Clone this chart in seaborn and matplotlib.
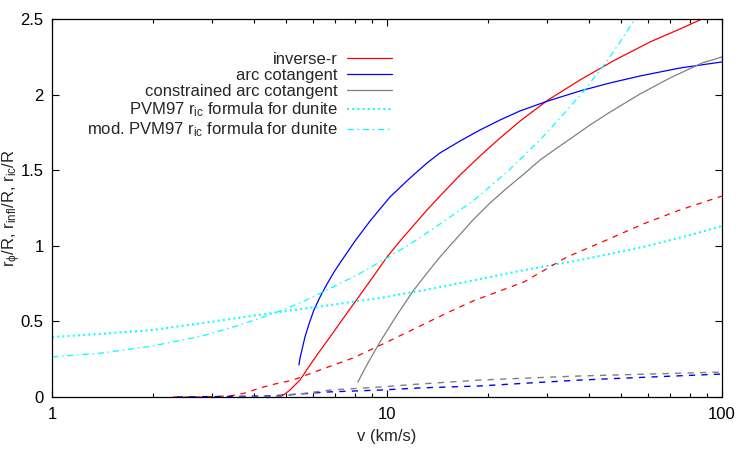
import matplotlib
matplotlib.use("Agg")
from matplotlib import pyplot as plt
from matplotlib import ticker
import seaborn as sns
import numpy as np

# curves (v in km/s, radius / R)
v_inv = [4.76, 4.96, 5.13, 5.31, 5.50, 5.81, 6.18, 6.76, 7.49, 8.31, 9.08, 10.0, 10.94, 11.96,
         13.17, 14.39, 16.52, 18.95, 21.75, 24.95, 30.24, 37.68, 47.93, 60.97, 74.93, 87.16, 100]
r_inv = [0.0, 0.020, 0.046, 0.079, 0.112, 0.192, 0.278, 0.397, 0.536, 0.675, 0.794, 0.926, 1.032,
         1.131, 1.237, 1.329, 1.468, 1.594, 1.713, 1.825, 1.964, 2.097, 2.229, 2.348, 2.434, 2.5, 2.56]

v_acot = [5.46, 5.50, 5.58, 5.69, 5.85, 6.05, 6.31, 6.62, 6.95, 7.34, 8.03, 8.90, 10.21, 11.71,
          13.17, 14.39, 16.52, 18.95, 21.75, 24.95, 30.24, 37.68, 46.3, 56.9, 74.93, 100]
r_acot = [0.212, 0.258, 0.317, 0.397, 0.483, 0.575, 0.661, 0.747, 0.827, 0.906, 1.032, 1.164, 1.323,
          1.448, 1.548, 1.614, 1.693, 1.766, 1.832, 1.892, 1.958, 2.024, 2.077, 2.123, 2.176, 2.216]

v_cacot = [8.19, 8.42, 8.84, 9.53, 10.56, 11.96, 13.17, 14.39, 15.96, 18.06, 20.30, 22.81, 25.82,
           28.62, 32.17, 35.92, 40.36, 45.38, 51.33, 56.9, 69.96, 87.16, 100]
r_cacot = [0.099, 0.152, 0.238, 0.364, 0.522, 0.701, 0.820, 0.926, 1.038, 1.171, 1.283, 1.382, 1.481,
           1.567, 1.647, 1.720, 1.799, 1.872, 1.944, 2.004, 2.110, 2.209, 2.249]

v_pvm = [1.0, 1.39, 1.99, 2.96, 4.54, 6.76, 9.53, 13.44, 18.95, 26.7, 37.68, 58.1, 80.3, 100]
r_pvm = [0.397, 0.417, 0.443, 0.496, 0.556, 0.608, 0.655, 0.714, 0.780, 0.847, 0.906, 0.992, 1.071, 1.131]

v_mod = [1.0, 1.41, 1.99, 2.80, 3.64, 4.54, 5.50, 6.62, 8.14, 10.0, 12.12, 14.39, 18.06, 22.81,
         28.62, 32.84, 38.47, 45.38, 49.6, 55.0, 60.97]
r_mod = [0.265, 0.291, 0.337, 0.403, 0.476, 0.549, 0.622, 0.708, 0.807, 0.919, 1.032, 1.144, 1.296,
         1.488, 1.700, 1.845, 2.017, 2.222, 2.348, 2.5, 2.652]

# dashed curves (no legend entry)
v_inv_d = [2.3, 2.77, 3.40, 3.77, 4.18, 4.63, 5.24, 6.31, 7.92, 9.86, 11.71, 15.10, 18.06, 25.64,
           34.46, 43.23, 58.1, 74.93, 100]
r_inv_d = [0.0, 0.0, 0.007, 0.026, 0.060, 0.086, 0.112, 0.179, 0.258, 0.357, 0.437, 0.556, 0.635,
           0.761, 0.926, 1.019, 1.144, 1.237, 1.329]

v_acot_d = [2.36, 4.47, 5.50, 6.62, 9.53, 12.54, 18.95, 26.7, 37.68, 60.97, 100]
r_acot_d = [0.0, 0.007, 0.020, 0.033, 0.046, 0.060, 0.073, 0.093, 0.112, 0.132, 0.152]

v_cacot_d = [3.6, 4.47, 5.50, 6.76, 9.53, 12.54, 18.95, 26.7, 37.68, 60.97, 100]
r_cacot_d = [0.0, 0.0, 0.020, 0.046, 0.066, 0.086, 0.112, 0.126, 0.139, 0.152, 0.165]

labels = ["inverse-r", "arc cotangent", "constrained arc cotangent",
          r"PVM97 r$_\mathrm{ic}$ formula for dunite",
          r"mod. PVM97 r$_\mathrm{ic}$ formula for dunite"]
xticks = [1, 10, 100]
xtick_labels = ["1", "10", "100"]
yticks = [0, 0.5, 1, 1.5, 2, 2.5]

sns.set_style("ticks")
plt.rcParams['font.family'] = ['Liberation Sans', 'DejaVu Sans']
plt.rcParams['mathtext.fontset'] = 'custom'
plt.rcParams['mathtext.rm'] = 'Liberation Sans'
plt.rcParams['mathtext.it'] = 'Liberation Sans'
plt.rcParams['font.size'] = 12

fig = plt.figure(figsize=(7.5, 4.5), dpi=100)
ax = fig.add_axes([52 / 750, 1 - 397 / 450, 670 / 750, 378 / 450])
ax.set_xscale("log")

lw = 0.9
sns.lineplot(x=v_inv, y=r_inv, ax=ax, color="#ff0000", lw=lw, label=labels[0])
sns.lineplot(x=v_acot, y=r_acot, ax=ax, color="#0000ff", lw=lw, label=labels[1])
sns.lineplot(x=v_cacot, y=r_cacot, ax=ax, color="#808080", lw=lw, label=labels[2])
sns.lineplot(x=v_pvm, y=r_pvm, ax=ax, color="#00ffff", lw=1.5, label=labels[3])
sns.lineplot(x=v_mod, y=r_mod, ax=ax, color="#00ffff", lw=lw, label=labels[4])
sns.lineplot(x=v_inv_d, y=r_inv_d, ax=ax, color="#ff0000", lw=lw)
sns.lineplot(x=v_acot_d, y=r_acot_d, ax=ax, color="#0000ff", lw=1.0)
sns.lineplot(x=v_cacot_d, y=r_cacot_d, ax=ax, color="#808080", lw=1.0)

lines = ax.get_lines()
lines[3].set_dashes((0.9, 1.6))
lines[4].set_dashes((5, 3, 1.2, 3))
lines[5].set_dashes((4.5, 4.5))
lines[6].set_dashes((4.5, 4.5))
lines[7].set_dashes((4.5, 4.5))

ax.set_xlim(1, 100)
ax.set_ylim(0, 2.5)
ax.set_xticks(xticks)
ax.set_xticklabels(xtick_labels)
ax.xaxis.set_minor_locator(ticker.LogLocator(base=10, subs=np.arange(2, 10)))
ax.xaxis.set_minor_formatter(ticker.NullFormatter())
ax.set_yticks(yticks)
ax.yaxis.set_major_formatter(ticker.FormatStrFormatter('%g'))
ax.tick_params(which="both", direction="in", top=True, right=True, colors="black",
               labelsize=12)
ax.tick_params(which="major", length=5, width=0.8, pad=7)
ax.tick_params(axis="y", which="major", pad=6)
ax.tick_params(which="minor", length=3, width=0.8)
for sp in ax.spines.values():
    sp.set_visible(True)
    sp.set_linewidth(0.9)
    sp.set_color("black")

ax.set_xlabel("v (km/s)", fontsize=12, labelpad=5)
ax.set_ylabel(r"r$_\phi$/R, r$_\mathrm{infl}$/R, r$_\mathrm{ic}$/R", fontsize=12)
ax.yaxis.set_label_coords(-0.044, 0.5)

ax.legend(handles=lines[:5], labels=labels, loc="upper right",
          bbox_to_anchor=(0.507, 0.914), frameon=False, markerfirst=False,
          handlelength=2.7, handletextpad=0.55, labelspacing=0.08,
          borderpad=0, borderaxespad=0, fontsize=12)

fig.savefig("out.png", dpi=100)
